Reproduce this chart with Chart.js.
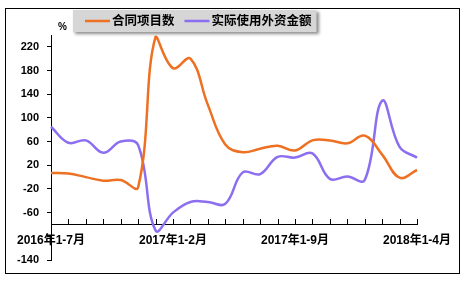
<!DOCTYPE html>
<html>
<head>
<meta charset="utf-8">
<script src="https://cdn.jsdelivr.net/npm/chart.js"></script>
<style>
  html, body { margin: 0; padding: 0; background: #fff; }
</style>
</head>
<body>
<canvas id="growthChart" width="467" height="281"></canvas>
<script>
const categories = [
  '2016年1-7月', '2016年1-8月', '2016年1-9月', '2016年1-10月', '2016年1-11月', '2016年1-12月',
  '2017年1月', '2017年1-2月', '2017年1-3月', '2017年1-4月', '2017年1-5月', '2017年1-6月',
  '2017年1-7月', '2017年1-8月', '2017年1-9月', '2017年1-10月', '2017年1-11月', '2017年1-12月',
  '2018年1月', '2018年1-2月', '2018年1-3月', '2018年1-4月'
];
const projectCount = [7, 6, 0, -6, -5, -17, 237, 184, 200, 122, 55, 42, 48, 53, 45, 62, 62, 57, 70, 38, -1, 12];
const fdiAmount = [85, 58, 62, 41, 60, 54, -90, -60, -42, -42, -45, 8, 5, 34, 33, 40, -3, 1, -5, 129, 51, 33];
const seriesNames = ['合同项目数', '实际使用外资金额'];
const seriesColors = ['#ee7022', '#8c6ef0'];
const yTicks = [-140, -100, -60, -20, 20, 60, 100, 140, 180, 220];

const fontFamily = "'Liberation Sans', Arial, 'Noto Sans CJK SC', sans-serif";

// frame, unit, upward x ticks and the grey legend box
const chartDecor = {
  id: 'chartDecor',
  beforeDraw(chart) {
    const ctx = chart.ctx;
    ctx.save();
    ctx.fillStyle = '#fff';
    ctx.fillRect(0, 0, chart.width, chart.height);
    ctx.restore();
  },
  beforeDatasetsDraw(chart) {
    const ctx = chart.ctx;
    const xs = chart.scales.x;
    const axisY = Math.round(chart.scales.y.getPixelForValue(-80));
    ctx.save();
    ctx.strokeStyle = '#000';
    ctx.lineWidth = 1;
    categories.forEach((c, i) => {
      const px = Math.round(xs.getPixelForValue(i)) + 0.5;
      ctx.beginPath();
      ctx.moveTo(px, axisY - 5);
      ctx.lineTo(px, axisY);
      ctx.stroke();
    });
    ctx.fillStyle = '#000';
    ctx.font = 'bold 10px ' + fontFamily;
    ctx.textBaseline = 'middle';
    ctx.fillText('%', 58, 27);
    ctx.restore();
  },
  afterDraw(chart) {
    const ctx = chart.ctx;
    ctx.save();
    ctx.font = 'bold 12.5px ' + fontFamily;
    const startX = 85, midY = 21;
    let x = startX;
    const items = seriesNames.map((name, i) => {
      const item = { x: x, w: ctx.measureText(name).width, name: name, color: seriesColors[i] };
      x = x + 27 + item.w + 10;
      return item;
    });
    const boxRight = x - 10 + 5;
    ctx.shadowColor = 'rgba(0,0,0,0.45)';
    ctx.shadowOffsetX = 2;
    ctx.shadowOffsetY = 2;
    ctx.shadowBlur = 3;
    ctx.fillStyle = '#d6d6d6';
    ctx.fillRect(73, 10, boxRight - 73, 22);
    ctx.shadowColor = 'transparent';
    items.forEach(it => {
      ctx.strokeStyle = it.color;
      ctx.lineWidth = 2.5;
      ctx.beginPath();
      ctx.moveTo(it.x, midY);
      ctx.lineTo(it.x + 25, midY);
      ctx.stroke();
      ctx.fillStyle = '#000';
      ctx.textBaseline = 'middle';
      ctx.fillText(it.name, it.x + 27, midY + 1);
    });
    ctx.strokeStyle = '#000';
    ctx.lineWidth = 1;
    ctx.strokeRect(5.5, 8.5, 454, 265);
    ctx.restore();
  }
};

new Chart(document.getElementById('growthChart'), {
  type: 'line',
  data: {
    labels: categories,
    datasets: [{
      label: seriesNames[0],
      data: projectCount,
      borderColor: seriesColors[0],
      borderWidth: 2.5,
      pointRadius: 0,
      tension: 0.4,
      fill: false
    }, {
      label: seriesNames[1],
      data: fdiAmount,
      borderColor: seriesColors[1],
      borderWidth: 2.5,
      pointRadius: 0,
      tension: 0.4,
      fill: false
    }]
  },
  options: {
    responsive: false,
    animation: false,
    layout: {
      padding: { left: 0, right: 50, top: 35, bottom: 21 }
    },
    plugins: {
      legend: { display: false },
      tooltip: { enabled: false }
    },
    scales: {
      x: {
        type: 'category',
        position: { y: -80 },
        offset: false,
        grid: { drawOnChartArea: false, drawTicks: false, offset: false },
        border: { display: true, color: '#000', width: 1 },
        ticks: {
          autoSkip: false,
          maxRotation: 0,
          padding: 9,
          color: '#000',
          font: { family: fontFamily, size: 12, weight: 'bold' },
          callback: (v, i) => i % 7 === 0 ? categories[i] : ''
        },
        afterFit: s => { s.height = 0; }
      },
      y: {
        min: -140,
        max: 240,
        afterBuildTicks: s => { s.ticks = yTicks.map(v => ({ value: v })); },
        grid: { drawOnChartArea: false, drawTicks: true, tickLength: 4, color: '#000' },
        border: { display: true, color: '#000', width: 1 },
        ticks: {
          padding: 8,
          color: '#000',
          font: { family: fontFamily, size: 11, weight: 'bold' },
          callback: v => v === -100 ? '' : v
        },
        afterFit: s => { s.width = 51; }
      }
    }
  },
  plugins: [chartDecor]
});
</script>
</body>
</html>
